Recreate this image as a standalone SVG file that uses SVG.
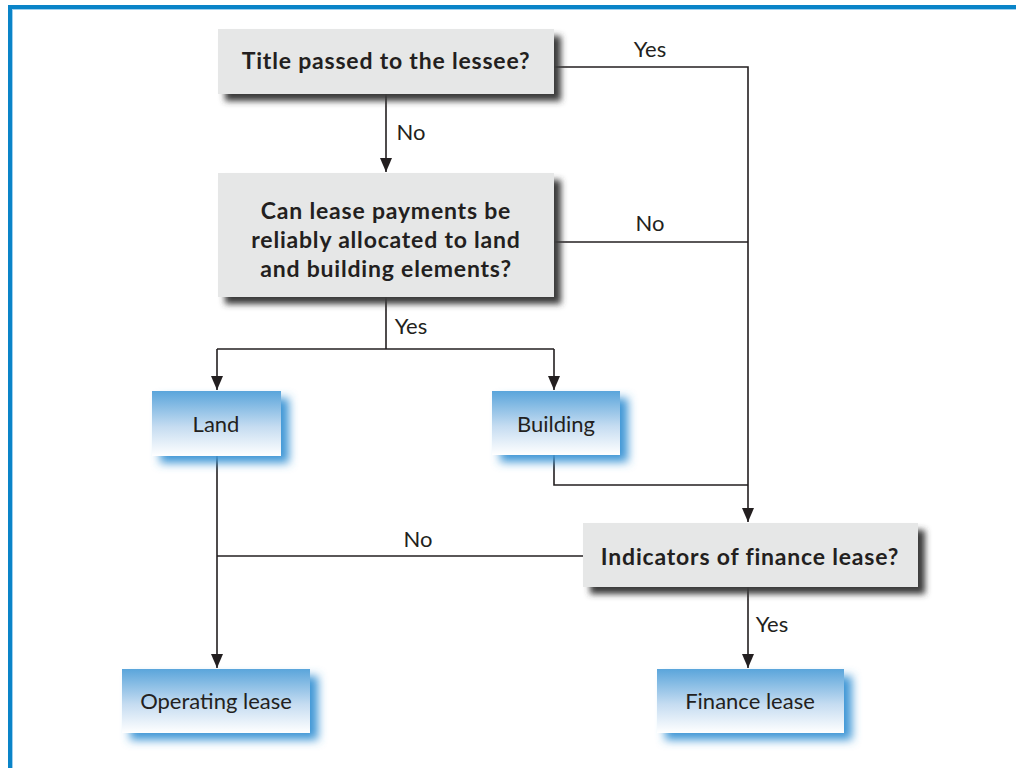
<svg xmlns="http://www.w3.org/2000/svg" width="1016" height="768" viewBox="0 0 1016 768">
  <style>
    .q { fill: #e6e7e7; }
    .qs { fill: #3a3a3a; filter: url(#soft); }
    .b { fill: url(#blueGrad); }
    .bs { fill: #3f97d6; filter: url(#soft2); }
    .qt { font-family: Lato, "Open Sans", sans-serif; font-weight: bold; font-size: 23px; letter-spacing: 0.8px; fill: #231f20; text-anchor: middle; }
    .bt { font-family: Lato, "Open Sans", sans-serif; font-size: 22px; fill: #231f20; text-anchor: middle; }
    .lbl { font-family: Lato, "Open Sans", sans-serif; font-size: 22px; fill: #231f20; text-anchor: middle; }
    .ln { fill: none; stroke: #231f20; stroke-width: 1.6; }
  </style>
  <defs>
    <linearGradient id="blueGrad" x1="0" y1="0" x2="0" y2="1">
      <stop offset="0" stop-color="#5aa5db"/>
      <stop offset="0.55" stop-color="#c5dcf1"/>
      <stop offset="1" stop-color="#ffffff"/>
    </linearGradient>
    <filter id="soft" x="-20%" y="-30%" width="140%" height="160%">
      <feGaussianBlur stdDeviation="3"/>
    </filter>
    <filter id="soft2" x="-30%" y="-40%" width="160%" height="180%">
      <feGaussianBlur stdDeviation="5"/>
    </filter>
    <marker id="arr" markerWidth="14" markerHeight="12" refX="14" refY="6" orient="auto" markerUnits="userSpaceOnUse" viewBox="0 0 14 12">
      <path d="M0,0 L14,6 L0,12 Z" fill="#231f20"/>
    </marker>
  </defs>

  <rect width="1016" height="768" fill="#ffffff"/>
  <!-- outer frame -->
  <rect x="10" y="7" width="1020" height="780" fill="none" stroke="#0a84c8" stroke-width="4"/>
  <rect x="12.5" y="9.5" width="1020" height="780" fill="none" stroke="#9fd0ee" stroke-width="1"/>

  <!-- connectors and their labels -->
  <g id="connectors">
    <path class="ln" d="M386,94 V172" marker-end="url(#arr)"/>
    <path class="ln" d="M554,67 H748 V522" marker-end="url(#arr)"/>
    <path class="ln" d="M554,242 H748"/>
    <path class="ln" d="M386,297 V349"/>
    <path class="ln" d="M217,349 H554"/>
    <path class="ln" d="M217,349 V390" marker-end="url(#arr)"/>
    <path class="ln" d="M554,349 V390" marker-end="url(#arr)"/>
    <path class="ln" d="M554,455 V485 H748"/>
    <path class="ln" d="M217,456 V668" marker-end="url(#arr)"/>
    <path class="ln" d="M583,556 H217"/>
    <path class="ln" d="M748,587 V668" marker-end="url(#arr)"/>
    <text class="lbl" x="650" y="57">Yes</text>
    <text class="lbl" x="411" y="140">No</text>
    <text class="lbl" x="650" y="231">No</text>
    <text class="lbl" x="411" y="334">Yes</text>
    <text class="lbl" x="418" y="547">No</text>
    <text class="lbl" x="772" y="632">Yes</text>
  </g>

  <g id="title-passed">
    <rect class="qs" x="225" y="36" width="336" height="65"/>
    <rect class="q" x="218" y="29" width="336" height="65"/>
    <text class="qt" x="386" y="69">Title passed to the lessee?</text>
  </g>

  <g id="can-allocate">
    <rect class="qs" x="225" y="180" width="336" height="124"/>
    <rect class="q" x="218" y="173" width="336" height="124"/>
    <text class="qt" x="386" y="219">Can lease payments be</text>
    <text class="qt" x="386" y="248">reliably allocated to land</text>
    <text class="qt" x="386" y="277">and building elements?</text>
  </g>

  <g id="land">
    <rect class="bs" x="160" y="398" width="129" height="65"/>
    <rect class="b" x="152" y="391" width="129" height="65"/>
    <text class="bt" x="216" y="432">Land</text>
  </g>

  <g id="building">
    <rect class="bs" x="500" y="398" width="128" height="64"/>
    <rect class="b" x="492" y="391" width="128" height="64"/>
    <text class="bt" x="556" y="432">Building</text>
  </g>

  <g id="indicators">
    <rect class="qs" x="590" y="530" width="335" height="64"/>
    <rect class="q" x="583" y="523" width="335" height="64"/>
    <text class="qt" x="750" y="565">Indicators of finance lease?</text>
  </g>

  <g id="operating-lease">
    <rect class="bs" x="130" y="676" width="188" height="64"/>
    <rect class="b" x="122" y="669" width="188" height="64"/>
    <text class="bt" x="216" y="709">Operating lease</text>
  </g>

  <g id="finance-lease">
    <rect class="bs" x="665" y="676" width="187" height="64"/>
    <rect class="b" x="657" y="669" width="187" height="64"/>
    <text class="bt" x="750" y="709">Finance lease</text>
  </g>
</svg>
